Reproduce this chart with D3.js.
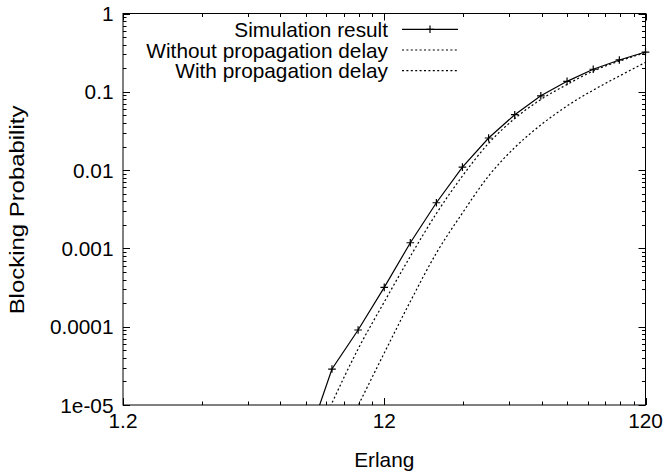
<!DOCTYPE html>
<html><head><meta charset="utf-8">
<script src="https://cdn.jsdelivr.net/npm/d3@7"></script>
<style>body{margin:0;background:#fff}svg{display:block}</style>
</head><body>
<script>
// ---- data ----
const erlang = [6.0, 7.57, 9.53, 12, 15.1, 19.0, 23.9, 30.1, 37.9, 47.7, 60.1, 75.7, 95.3, 120];
const simulation = [3.0e-6, 2.88e-5, 9.08e-5, 3.18e-4, 1.18e-3, 3.83e-3, 1.09e-2, 2.57e-2, 5.10e-2, 8.89e-2, 0.136, 0.194, 0.255, 0.322];
const withoutDelay = [1.82e-6, 1.06e-5, 5.19e-5, 2.07e-4, 7.91e-4, 2.79e-3, 8.41e-3, 2.20e-2, 4.56e-2, 7.97e-2, 0.124, 0.184, 0.247, 0.316];
const withDelayX = [7.57, 9.53, 12, 15.1, 19.0, 23.9, 30.1, 37.9, 47.7, 60.1, 75.7, 95.3, 120];
const withDelay = [1.98e-6, 9.77e-6, 4.61e-5, 2.10e-4, 8.73e-4, 2.83e-3, 8.41e-3, 1.94e-2, 3.77e-2, 6.59e-2, 0.105, 0.159, 0.238];
const xTicks = [1.2, 12, 120];
const xTickLabels = ["1.2", "12", "120"];
const yTicks = [1e-5, 1e-4, 1e-3, 1e-2, 1e-1, 1];
const yTickLabels = ["1e-05", "0.0001", "0.001", "0.01", "0.1", "1"];
const seriesNames = ["Simulation result", "Without propagation delay", "With propagation delay"];

// ---- layout ----
const W = 664, H = 471;
const L = 123, R = 645.5, T = 13.5, B = 405;
const FS = 20.8, FONT = "'Liberation Sans', Arial, Helvetica, sans-serif";

const svg = d3.select("body").append("svg").attr("width", W).attr("height", H);
const x = d3.scaleLog().domain([1.2, 120]).range([L, R]);
const y = d3.scaleLog().domain([1e-5, 1]).range([B, T]);

svg.append("defs").append("clipPath").attr("id", "clip")
  .append("rect").attr("x", L).attr("y", T).attr("width", R - L).attr("height", B - T);

function label(txt, px, py, anchor, rot, sx, fs) {
  return svg.append("text")
    .attr("transform", `translate(${px},${py})` + (rot ? ` rotate(${rot})` : "") + (sx ? ` scale(${sx},1)` : ""))
    .attr("text-anchor", anchor).attr("dy", "0.36em")
    .attr("font-family", FONT).attr("font-size", fs || FS).attr("fill", "#000").text(txt);
}

// ticks
const g = svg.append("g").attr("stroke", "#000").attr("stroke-width", 1);
const majLen = 7, minLen = 3.5;
const xMinor = [];
[1.2, 12].forEach(b => { for (let k = 2; k <= 9; k++) xMinor.push(b * k); });
xMinor.forEach(v => {
  const px = Math.round(x(v)) + 0.5;
  g.append("line").attr("x1", px).attr("x2", px).attr("y1", B).attr("y2", B - minLen);
  g.append("line").attr("x1", px).attr("x2", px).attr("y1", T).attr("y2", T + minLen);
});
xTicks.forEach(v => {
  const px = Math.round(x(v)) + 0.5;
  g.append("line").attr("x1", px).attr("x2", px).attr("y1", B).attr("y2", B - majLen);
  g.append("line").attr("x1", px).attr("x2", px).attr("y1", T).attr("y2", T + majLen);
});
const yMinor = [];
[1e-5, 1e-4, 1e-3, 1e-2, 1e-1].forEach(b => { for (let k = 2; k <= 9; k++) yMinor.push(b * k); });
yMinor.forEach(v => {
  const py = Math.round(y(v)) + 0.5;
  g.append("line").attr("x1", L).attr("x2", L + minLen).attr("y1", py).attr("y2", py);
  g.append("line").attr("x1", R).attr("x2", R - minLen).attr("y1", py).attr("y2", py);
});
yTicks.forEach(v => {
  const py = Math.round(y(v)) + 0.5;
  g.append("line").attr("x1", L).attr("x2", L + majLen).attr("y1", py).attr("y2", py);
  g.append("line").attr("x1", R).attr("x2", R - majLen).attr("y1", py).attr("y2", py);
});

// frame
svg.append("rect").attr("x", L).attr("y", T).attr("width", R - L).attr("height", B - T)
  .attr("fill", "none").attr("stroke", "#000").attr("stroke-width", 1);

// tick labels
xTicks.forEach((v, i) => label(xTickLabels[i], x(v), 420, "middle"));
yTicks.forEach((v, i) => label(yTickLabels[i], 113.5, y(v), "end"));

// axis titles
label("Erlang", (L + R) / 2, 459, "middle");
label("Blocking Probability", 17, 210, "middle", -90, 1.15);

// lines
const line = d3.line().x(d => x(d[0])).y(d => y(d[1]));
const smooth = d3.line().x(d => x(d[0])).y(d => y(d[1])).curve(d3.curveMonotoneX);
const plot = svg.append("g").attr("clip-path", "url(#clip)");
const simPts = erlang.map((e, i) => [e, simulation[i]]);
plot.append("path").attr("d", line(simPts)).attr("fill", "none").attr("stroke", "#000").attr("stroke-width", 1.2);
plot.append("path").attr("d", smooth(erlang.map((e, i) => [e, withoutDelay[i]])))
  .attr("fill", "none").attr("stroke", "#000").attr("stroke-width", 1.2).attr("stroke-dasharray", "2,2.4");
plot.append("path").attr("d", smooth(withDelayX.map((e, i) => [e, withDelay[i]])))
  .attr("fill", "none").attr("stroke", "#000").attr("stroke-width", 1.2).attr("stroke-dasharray", "2,2.4");

// markers
const ms = 3.8;
function plus(px, py) {
  svg.append("path").attr("d", `M${px - ms},${py}H${px + ms}M${px},${py - ms}V${py + ms}`)
    .attr("stroke", "#000").attr("stroke-width", 1.2).attr("fill", "none");
}
simPts.filter(d => d[1] >= 1e-5).forEach(d => plus(x(d[0]), y(d[1])));

// legend
const rows = [29.3, 50, 70.7];
const lx1 = 402, lx2 = 458;
seriesNames.forEach((n, i) => {
  label(n, 388, rows[i], "end");
  const l = svg.append("line").attr("x1", lx1).attr("x2", lx2).attr("y1", rows[i]).attr("y2", rows[i])
    .attr("stroke", "#000").attr("stroke-width", 1.2);
  if (i > 0) l.attr("stroke-dasharray", "2,2.4");
  else plus((lx1 + lx2) / 2, rows[i]);
});
</script>
</body></html>
